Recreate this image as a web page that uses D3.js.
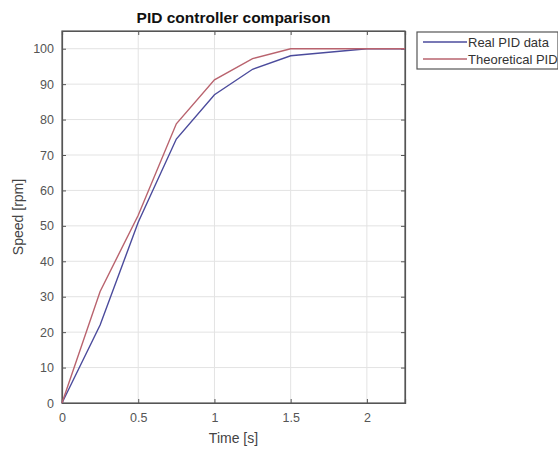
<!DOCTYPE html>
<html>
<head>
<meta charset="utf-8">
<script src="https://cdn.jsdelivr.net/npm/d3@7"></script>
<style>
body { margin: 0; background: #fff; }
svg { font-family: Arial, "Liberation Sans", sans-serif; }
</style>
</head>
<body>
<svg id="chart" width="558" height="452"></svg>
<script>
// data
var times = [0, 0.25, 0.5, 0.75, 1, 1.25, 1.5, 2, 2.25];
var realPID = [0, 22, 51, 74.5, 87, 94.2, 98, 100, 100];
var theoPID = [0, 31.5, 53, 78.8, 91.2, 97.2, 100, 100, 100];
var xTicks = [0, 0.5, 1, 1.5, 2];
var yTicks = [0, 10, 20, 30, 40, 50, 60, 70, 80, 90, 100];
var seriesNames = ["Real PID data", "Theoretical PID"];
var seriesColors = ["#4b4b9c", "#b9636e"];

var svg = d3.select("#chart");
// plot box (window.top is reserved, so use other names)
var plotL = 62, plotR = 405, plotT = 31, plotB = 403;

var x = d3.scaleLinear().domain([0, 2.25]).range([plotL, plotR]);
var y = d3.scaleLinear().domain([0, 105]).range([plotB, plotT]);

// grid
svg.append("g").selectAll("line")
    .data(xTicks.slice(1))
    .enter().append("line")
    .attr("x1", function (d) { return x(d); })
    .attr("x2", function (d) { return x(d); })
    .attr("y1", plotT).attr("y2", plotB)
    .attr("stroke", "#e3e3e3").attr("stroke-width", 1);
svg.append("g").selectAll("line")
    .data(yTicks.slice(1))
    .enter().append("line")
    .attr("y1", function (d) { return y(d); })
    .attr("y2", function (d) { return y(d); })
    .attr("x1", plotL).attr("x2", plotR)
    .attr("stroke", "#e3e3e3").attr("stroke-width", 1);

// axes
var xAxis = d3.axisBottom(x).tickValues(xTicks).tickSize(-4).tickPadding(10)
    .tickFormat(function (d) { return d3.format("~g")(d); });
var yAxis = d3.axisLeft(y).tickValues(yTicks).tickSize(-4).tickPadding(8);

var gx = svg.append("g").attr("transform", "translate(0," + plotB + ")").call(xAxis);
var gy = svg.append("g").attr("transform", "translate(" + plotL + ",0)").call(yAxis);
// mirrored ticks top/right
var gx2 = svg.append("g").attr("transform", "translate(0," + plotT + ")")
    .call(d3.axisTop(x).tickValues(xTicks).tickSize(-4).tickFormat(""));
var gy2 = svg.append("g").attr("transform", "translate(" + plotR + ",0)")
    .call(d3.axisRight(y).tickValues(yTicks).tickSize(-4).tickFormat(""));

[gx, gy, gx2, gy2].forEach(function (g) {
    g.select(".domain").attr("stroke", "#555").attr("stroke-width", 1.2);
    g.selectAll(".tick line").attr("stroke", "#555");
    g.selectAll(".tick text").attr("fill", "#555").style("font-size", "12.5px");
});
// close the box
svg.append("rect")
    .attr("x", plotL).attr("y", plotT)
    .attr("width", plotR - plotL).attr("height", plotB - plotT)
    .attr("fill", "none").attr("stroke", "#555").attr("stroke-width", 1.2);

// lines
var line = d3.line()
    .x(function (d, i) { return x(times[i]); })
    .y(function (d) { return y(d); });

[realPID, theoPID].forEach(function (s, i) {
    svg.append("path")
        .datum(s)
        .attr("d", line)
        .attr("fill", "none")
        .attr("stroke", seriesColors[i])
        .attr("stroke-width", 1.4);
});

// labels
svg.append("text")
    .attr("x", (plotL + plotR) / 2).attr("y", 23)
    .attr("text-anchor", "middle")
    .style("font-size", "15.5px").style("font-weight", "bold")
    .attr("fill", "#111")
    .text("PID controller comparison");

svg.append("text")
    .attr("x", (plotL + plotR) / 2).attr("y", 443)
    .attr("text-anchor", "middle")
    .style("font-size", "14px")
    .attr("fill", "#444")
    .text("Time [s]");

svg.append("text")
    .attr("transform", "translate(23," + ((plotT + plotB) / 2) + ") rotate(-90)")
    .attr("text-anchor", "middle")
    .style("font-size", "14px")
    .attr("fill", "#444")
    .text("Speed [rpm]");

// legend
var lg = svg.append("g").attr("transform", "translate(417,32)");
lg.append("rect")
    .attr("width", 141).attr("height", 37)
    .attr("fill", "#fff").attr("stroke", "#555").attr("stroke-width", 1.2);
var items = lg.selectAll("g")
    .data(seriesNames)
    .enter().append("g")
    .attr("transform", function (d, i) { return "translate(0," + (10 + i * 17) + ")"; });
items.append("line")
    .attr("x1", 6).attr("x2", 50)
    .attr("stroke", function (d, i) { return seriesColors[i]; })
    .attr("stroke-width", 1.4);
items.append("text")
    .attr("x", 51).attr("y", 4.5)
    .style("font-size", "13px")
    .attr("fill", "#333")
    .text(function (d) { return d; });
</script>
</body>
</html>
